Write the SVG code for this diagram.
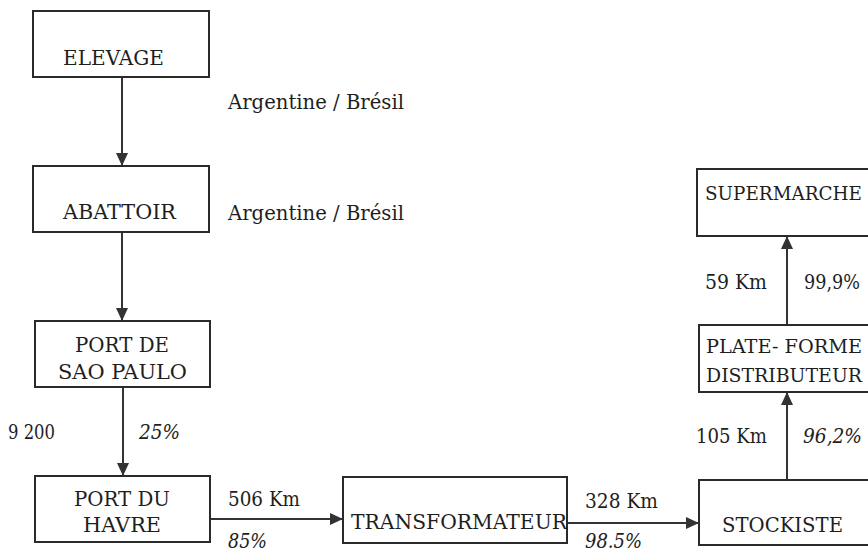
<svg xmlns="http://www.w3.org/2000/svg" width="868" height="553" viewBox="0 0 868 553">
<style>
.box{fill:#fff;stroke:#2a2a2a;stroke-width:2}
.t{font-family:"DejaVu Serif","Liberation Serif",serif;font-size:20px;fill:#1e1e1e}
.s{font-size:18.5px}
.i{font-style:italic}
.c{stroke:#333;stroke-width:2;fill:none;marker-end:url(#ah)}
</style>
<defs>
<marker id="ah" markerUnits="userSpaceOnUse" markerWidth="13" markerHeight="12" refX="12" refY="6" orient="auto">
<path d="M0,0 L13,6 L0,12 z" fill="#333"/>
</marker>
</defs>
<rect width="868" height="553" fill="#fff"/>
<g id="connectors">
<line class="c" x1="122" y1="77" x2="122" y2="165"/>
<line class="c" x1="122" y1="232" x2="122" y2="320"/>
<line class="c" x1="123" y1="387" x2="123" y2="475"/>
<line class="c" x1="210" y1="519" x2="342" y2="519"/>
<line class="c" x1="567" y1="523" x2="698" y2="523"/>
<line class="c" x1="787" y1="480" x2="787" y2="393"/>
<line class="c" x1="787" y1="325" x2="787" y2="237"/>
</g>
<g id="elevage">
<rect class="box" x="33" y="11" width="176" height="66"/>
<text class="t" x="63" y="65" textLength="101" lengthAdjust="spacingAndGlyphs">ELEVAGE</text>
</g>
<g id="abattoir">
<rect class="box" x="33" y="166" width="176" height="66"/>
<text class="t" x="63" y="219" textLength="113" lengthAdjust="spacingAndGlyphs">ABATTOIR</text>
</g>
<g id="port-sao-paulo">
<rect class="box" x="35" y="321" width="175" height="66"/>
<text class="t" x="75" y="352" textLength="94" lengthAdjust="spacingAndGlyphs">PORT DE</text>
<text class="t" x="58" y="379" textLength="129" lengthAdjust="spacingAndGlyphs">SAO PAULO</text>
</g>
<g id="port-havre">
<rect class="box" x="35" y="476" width="175" height="66"/>
<text class="t" x="74" y="506" textLength="96" lengthAdjust="spacingAndGlyphs">PORT DU</text>
<text class="t" x="83" y="532" textLength="78" lengthAdjust="spacingAndGlyphs">HAVRE</text>
</g>
<g id="transformateur">
<rect class="box" x="343" y="477" width="224" height="66"/>
<text class="t" x="351" y="529" textLength="216" lengthAdjust="spacingAndGlyphs">TRANSFORMATEUR</text>
</g>
<g id="stockiste">
<rect class="box" x="699" y="480" width="180" height="65"/>
<text class="t" x="722" y="532" textLength="121" lengthAdjust="spacingAndGlyphs">STOCKISTE</text>
</g>
<g id="plate-forme">
<rect class="box" x="699" y="325" width="180" height="67"/>
<text class="t s" x="706" y="353" textLength="156" lengthAdjust="spacingAndGlyphs">PLATE- FORME</text>
<text class="t s" x="706" y="382" textLength="156" lengthAdjust="spacingAndGlyphs">DISTRIBUTEUR</text>
</g>
<g id="supermarche">
<rect class="box" x="697" y="169" width="180" height="67"/>
<text class="t s" x="705" y="200" textLength="157" lengthAdjust="spacingAndGlyphs">SUPERMARCHE</text>
</g>
<g id="labels">
<text class="t" x="228" y="109" textLength="176" lengthAdjust="spacingAndGlyphs">Argentine / Brésil</text>
<text class="t" x="228" y="220" textLength="176" lengthAdjust="spacingAndGlyphs">Argentine / Brésil</text>
<text class="t" x="8" y="439" textLength="47" lengthAdjust="spacingAndGlyphs">9 200</text>
<text class="t i" x="139" y="439" textLength="41" lengthAdjust="spacingAndGlyphs">25%</text>
<text class="t" x="228" y="506" textLength="72" lengthAdjust="spacingAndGlyphs">506 Km</text>
<text class="t i" x="228" y="548" textLength="39" lengthAdjust="spacingAndGlyphs">85%</text>
<text class="t" x="585" y="508" textLength="73" lengthAdjust="spacingAndGlyphs">328 Km</text>
<text class="t i" x="585" y="548" textLength="57" lengthAdjust="spacingAndGlyphs">98.5%</text>
<text class="t" x="696" y="443" textLength="71" lengthAdjust="spacingAndGlyphs">105 Km</text>
<text class="t i" x="803" y="443" textLength="59" lengthAdjust="spacingAndGlyphs">96,2%</text>
<text class="t" x="705" y="289" textLength="62" lengthAdjust="spacingAndGlyphs">59 Km</text>
<text class="t" x="804" y="289" textLength="56" lengthAdjust="spacingAndGlyphs">99,9%</text>
</g>
</svg>
